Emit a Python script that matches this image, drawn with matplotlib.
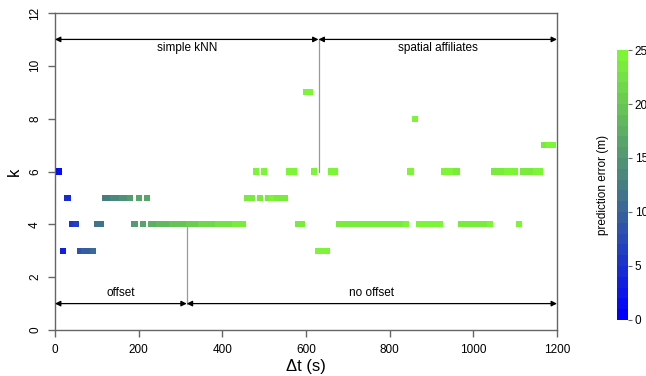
import numpy as np
import matplotlib
matplotlib.use("Agg")
import matplotlib.pyplot as plt
from matplotlib.colors import LinearSegmentedColormap, Normalize

plt.rcParams["font.family"] = ["Liberation Sans", "DejaVu Sans"]

# time offsets (s), one best k per offset, and its prediction error (m)
dt = np.arange(10, 1200, 10)
best_k = [6, 3, 5, 4, 4, 3, 3, 3, 3, 4,
          4, 5, 5, 5, 5, 5, 5, 5, 4, 5,
          4, 5, 4, 4, 4, 4, 4, 4, 4, 4,
          4, 4, 4, 4, 4, 4, 4, 4, 4, 4,
          4, 4, 4, 4, 4, 5, 5, 6, 5, 6,
          5, 5, 5, 5, 5, 6, 6, 4, 4, 9,
          9, 6, 3, 3, 3, 6, 6, 4, 4, 4,
          4, 4, 4, 4, 4, 4, 4, 4, 4, 4,
          4, 4, 4, 4, 6, 8, 4, 4, 4, 4,
          4, 4, 6, 6, 6, 6, 4, 4, 4, 4,
          4, 4, 4, 4, 6, 6, 6, 6, 6, 6,
          4, 6, 6, 6, 6, 6, 7, 7, 7]
pred_err = [1.0, 3.0, 4.0, 5.0, 6.0, 8.0, 9.0, 9.5, 10.0, 11.0,
            11.5, 12.0, 12.5, 13.0, 13.5, 14.0, 14.5, 15.0, 15.5, 16.0,
            16.0, 16.5, 17.0, 17.5, 18.0, 18.0, 18.5, 19.0, 19.0, 19.5,
            19.5, 20.0, 20.0, 20.5, 21.0, 21.0, 21.5, 21.5, 22.0, 22.0,
            22.5, 22.5, 23.0, 23.0, 23.5, 23.5, 23.5, 24.0, 23.5, 24.0,
            23.5, 24.0, 23.5, 23.5, 23.5, 24.0, 24.0, 23.5, 23.5, 24.0,
            24.0, 24.0, 24.0, 24.0, 24.0, 24.0, 24.0, 23.0, 23.5, 23.5,
            23.5, 23.5, 23.5, 23.5, 23.5, 23.5, 23.5, 23.5, 23.5, 23.5,
            23.5, 23.5, 23.5, 24.0, 24.0, 24.0, 24.0, 24.0, 24.0, 24.0,
            24.0, 24.0, 24.0, 24.0, 24.0, 23.5, 23.0, 23.0, 23.0, 23.0,
            23.5, 23.5, 23.5, 24.0, 23.5, 23.5, 23.5, 24.0, 24.0, 24.0,
            24.0, 23.5, 23.5, 23.5, 24.0, 24.0, 23.5, 24.0, 24.0]

# regions marked by the arrows: (start, end, label)
upper_regions = [(0, 630, "simple kNN"), (630, 1200, "spatial affiliates")]
lower_regions = [(0, 315, "offset"), (315, 1200, "no offset")]

cmap = LinearSegmentedColormap.from_list(
    "err", [(0.0, (0, 0, 1)), (0.5, (70/255, 125/255, 130/255)),
            (1.0, (125/255, 245/255, 55/255))], N=25)
norm = Normalize(0, 25)
grey = "#666666"

fig = plt.figure(figsize=(6.46, 3.76), dpi=100)
ax = fig.add_axes([0.0851, 0.1223, 0.7771, 0.8431])

sc = ax.scatter(dt, best_k, c=pred_err, cmap=cmap, norm=norm,
                marker="s", s=20, linewidths=0, zorder=3)

ax.set_xlim(0, 1200)
ax.set_ylim(0, 12)
ax.set_xticks(range(0, 1201, 200))
ax.set_yticks(range(0, 13, 2))
for s in ax.spines.values():
    s.set_color(grey)
    s.set_linewidth(1.0)
ax.tick_params(direction="out", length=5, width=1.0, color=grey,
               labelsize=8.5, pad=5)
plt.setp(ax.get_yticklabels(), rotation=90, va="center")
ax.set_xlabel("Δt (s)", fontsize=12, labelpad=2)
ax.set_ylabel("k", fontsize=12, labelpad=5)

arrow_kw = dict(arrowstyle="<|-|>", color="black", lw=0.9,
                mutation_scale=8, shrinkA=0, shrinkB=0)

# upper arrows
for x0, x1, lab in upper_regions:
    ax.annotate("", xy=(x1, 11), xytext=(x0, 11), arrowprops=arrow_kw)
    ax.text((x0 + x1) / 2, 10.67, lab, ha="center", va="center", fontsize=8.5)
ax.plot([630, 630], [6, 11], color="#999999", lw=0.9, zorder=2)

# lower arrows
for x0, x1, lab in lower_regions:
    ax.annotate("", xy=(x1, 1), xytext=(x0, 1), arrowprops=arrow_kw)
    ax.text((x0 + x1) / 2, 1.42, lab, ha="center", va="center", fontsize=8.5)
ax.plot([315, 315], [1, 4], color="#999999", lw=0.9, zorder=2)

# colour bar
cax = fig.add_axes([0.955, 0.149, 0.017, 0.718])
cb = fig.colorbar(sc, cax=cax, ticks=range(0, 26, 5))
cb.outline.set_visible(False)
cax.tick_params(length=3, width=0.8, color=grey, labelsize=8.5, pad=2)
cb.set_label("prediction error (m)", fontsize=8.5, labelpad=6)
cax.yaxis.set_label_position("left")

fig.savefig("out.png", dpi=100)
